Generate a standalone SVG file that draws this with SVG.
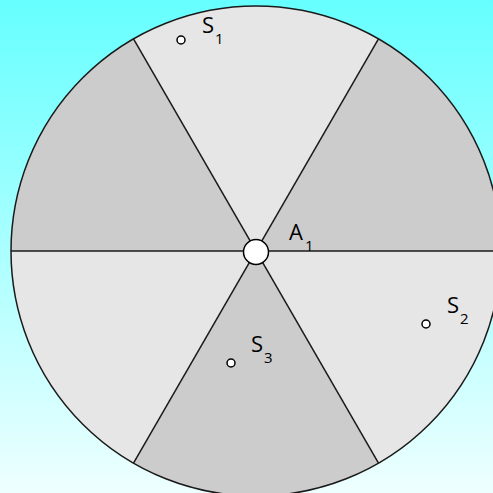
<svg xmlns="http://www.w3.org/2000/svg" width="493" height="493" viewBox="0 0 493 493">
<defs>
<linearGradient id="bg" x1="0" y1="0" x2="0" y2="1">
<stop offset="0" stop-color="#66FFFF"/>
<stop offset="1" stop-color="#EEFFFF"/>
</linearGradient>
</defs>
<style>
.light{fill:#E6E6E6;stroke:none}
.dark{fill:#CCCCCC;stroke:none}
.edge{stroke:#1a1a1a;stroke-width:1.5;fill:none}
.dot{fill:#fff;stroke:#000;stroke-width:1.5}
.lbl{font-family:"Open Sans","Liberation Sans",sans-serif;font-size:22px;fill:#000}
.sub{font-family:"Open Sans","Liberation Sans",sans-serif;font-size:15px;fill:#000}
</style>
<rect width="493" height="493" fill="url(#bg)"/>
<g id="disc">
<path class="dark" d="M256 251 L501 251 A245 245 0 0 0 378.5 38.8 Z"/>
<path class="light" d="M256 251 L378.5 38.8 A245 245 0 0 0 133.5 38.8 Z"/>
<path class="dark" d="M256 251 L133.5 38.8 A245 245 0 0 0 11 251 Z"/>
<path class="light" d="M256 251 L11 251 A245 245 0 0 0 133.5 463.2 Z"/>
<path class="dark" d="M256 251 L133.5 463.2 A245 245 0 0 0 378.5 463.2 Z"/>
<path class="light" d="M256 251 L378.5 463.2 A245 245 0 0 0 501 251 Z"/>
<circle class="edge" cx="256" cy="251" r="245" stroke-width="1.2"/>
</g>
<g id="connectors">
<line class="edge" x1="11" y1="251" x2="501" y2="251" stroke-width="2" stroke="#333"/>
<line class="edge" x1="133.5" y1="38.8" x2="378.5" y2="463.2"/>
<line class="edge" x1="378.5" y1="38.8" x2="133.5" y2="463.2"/>
</g>
<g id="A1">
<circle class="dot" cx="256" cy="252" r="12.5"/>
<text class="lbl" x="289" y="240">A</text>
<text class="sub" x="305" y="251">1</text>
</g>
<g id="S1">
<circle class="dot" cx="181" cy="40" r="4"/>
<text class="lbl" x="202" y="33">S</text>
<text class="sub" x="215" y="44">1</text>
</g>
<g id="S2">
<circle class="dot" cx="426" cy="324" r="4"/>
<text class="lbl" x="447" y="313">S</text>
<text class="sub" x="460" y="324">2</text>
</g>
<g id="S3">
<circle class="dot" cx="231" cy="363" r="4"/>
<text class="lbl" x="251" y="352">S</text>
<text class="sub" x="264" y="363">3</text>
</g>
</svg>
